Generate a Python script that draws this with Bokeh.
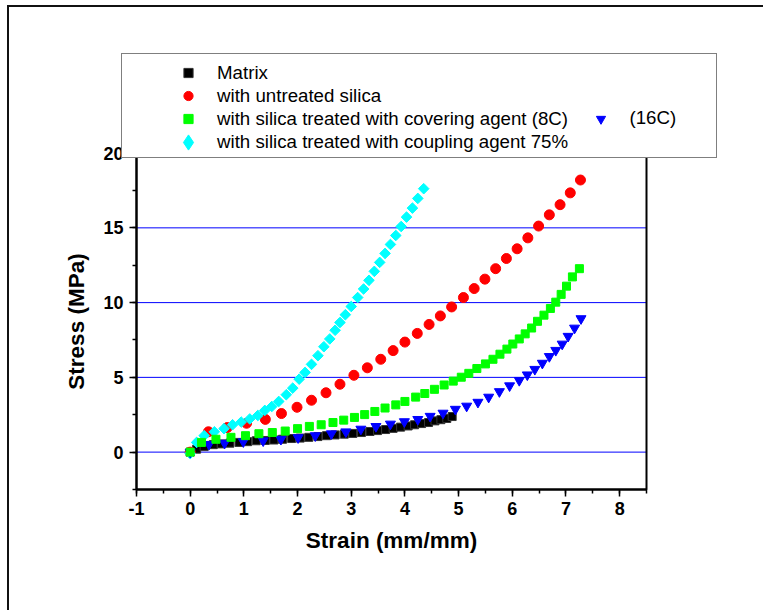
from bokeh.plotting import figure
from bokeh.models import Legend, LegendItem, SingleIntervalTicker
from bokeh.embed import file_html
from bokeh.resources import INLINE
import numpy as np

# ---------------- data ----------------
matrix_x = [0, 0.12, 0.26, 0.43, 0.58, 0.74, 0.91, 1.07, 1.23, 1.40, 1.56, 1.72, 1.89, 2.05, 2.21, 2.38, 2.54,
            2.70, 2.87, 3.03, 3.19, 3.35, 3.49, 3.64, 3.78, 3.92, 4.06, 4.18, 4.31, 4.44, 4.56, 4.67, 4.78, 4.88]
matrix_y = [0, 0.20, 0.37, 0.50, 0.55, 0.60, 0.65, 0.70, 0.76, 0.78, 0.81, 0.86, 0.91, 0.94, 0.99, 1.04, 1.10,
            1.15, 1.20, 1.25, 1.31, 1.38, 1.44, 1.51, 1.59, 1.67, 1.75, 1.83, 1.91, 1.98, 2.09, 2.17, 2.25, 2.38]

untreated_x = [0, 0.34, 0.69, 1.05, 1.40, 1.70, 1.99, 2.26, 2.53, 2.79, 3.05, 3.30, 3.55, 3.78, 4.00, 4.23,
               4.45, 4.66, 4.87, 5.09, 5.29, 5.49, 5.69, 5.89, 6.09, 6.29, 6.49, 6.69, 6.89, 7.08, 7.27]
untreated_y = [0, 1.36, 1.64, 1.93, 2.19, 2.58, 3.00, 3.47, 3.97, 4.54, 5.14, 5.64, 6.21, 6.79, 7.36, 7.94,
               8.54, 9.11, 9.71, 10.34, 10.94, 11.57, 12.27, 12.95, 13.60, 14.33, 15.12, 15.87, 16.55, 17.34, 18.20]

covering8_x = [0, 0.21, 0.48, 0.76, 1.03, 1.28, 1.53, 1.77, 2.00, 2.22, 2.44, 2.66, 2.86, 3.06, 3.25, 3.44,
               3.63, 3.83, 4.00, 4.20, 4.37, 4.55, 4.73, 4.90, 5.05, 5.19, 5.34, 5.50, 5.64, 5.77, 5.90, 6.01,
               6.13, 6.24, 6.36, 6.47, 6.59, 6.71, 6.81, 6.91, 7.01, 7.12, 7.25]
covering8_y = [0, 0.65, 0.86, 0.99, 1.10, 1.23, 1.31, 1.41, 1.57, 1.72, 1.83, 1.98, 2.14, 2.32, 2.51, 2.72,
               2.95, 3.16, 3.39, 3.68, 3.92, 4.20, 4.49, 4.75, 5.01, 5.27, 5.59, 5.90, 6.21, 6.55, 6.89, 7.23,
               7.57, 7.91, 8.30, 8.75, 9.16, 9.61, 10.03, 10.55, 11.10, 11.72, 12.27]

coupling_x = [0, 0.12, 0.26, 0.45, 0.63, 0.79, 0.95, 1.11, 1.26, 1.39, 1.52, 1.65, 1.79, 1.91, 2.03, 2.14,
              2.26, 2.38, 2.49, 2.60, 2.70, 2.79, 2.89, 3.00, 3.12, 3.23, 3.33, 3.43, 3.53, 3.63, 3.73, 3.83,
              3.93, 4.03, 4.14, 4.24, 4.35]
coupling_y = [-0.10, 0.65, 1.10, 1.36, 1.57, 1.83, 2.01, 2.22, 2.45, 2.79, 3.05, 3.39, 3.84, 4.28, 4.88, 5.33,
              5.87, 6.45, 7.05, 7.57, 8.15, 8.67, 9.19, 9.74, 10.34, 10.91, 11.49, 12.09, 12.69, 13.29, 13.89,
              14.49, 15.09, 15.72, 16.32, 16.97, 17.62]

covering16_x = [0, 0.35, 0.64, 0.99, 1.36, 1.69, 2.01, 2.33, 2.63, 2.90, 3.18, 3.46, 3.73, 3.99, 4.24, 4.47,
                4.71, 4.94, 5.15, 5.36, 5.56, 5.76, 5.95, 6.13, 6.28, 6.42, 6.56, 6.69, 6.81, 6.93, 7.04, 7.16, 7.28]
covering16_y = [0, 0.52, 0.60, 0.70, 0.76, 0.86, 0.97, 1.10, 1.23, 1.36, 1.54, 1.72, 1.88, 2.04, 2.19, 2.40,
                2.61, 2.87, 3.08, 3.34, 3.68, 4.05, 4.44, 4.80, 5.17, 5.54, 5.95, 6.40, 6.81, 7.23, 7.75, 8.30, 8.93]

labels = ["Matrix", "with untreated silica", "with silica treated with covering agent (8C)",
          "with silica treated with coupling agent 75%", "(16C)"]
x_title = "Strain (mm/mm)"
y_title = "Stress (MPa)"
x_lo, x_hi = -1, 8.5          # axis extents
y_lo, y_hi = -2.5, 20
grid_values = [0, 5, 10, 15, 20]

FONT = "Liberation Sans"
W, H = 763, 610
# plot box in pixels: left 136, right 646, top 152.6, bottom 489
PL, PR, PT, PB = 136, 646, 152.6, 489
kx = (PR - PL) / (x_hi - x_lo)
ky = (PB - PT) / (y_hi - y_lo)
xr = (x_lo - PL / kx, x_hi + (W - PR) / kx)
yr = (y_lo - (H - PB) / ky, y_hi + PT / ky)

# ---------------- figure (frame = whole canvas, axes pinned to the box) ----------------
p = figure(width=W, height=H, x_range=xr, y_range=yr,
           output_backend="svg", toolbar_location=None, title_location=None,
           min_border=0, min_border_left=0, min_border_right=0, min_border_top=0, min_border_bottom=0,
           background_fill_alpha=0, border_fill_alpha=0,
           styles={"background": "linear-gradient(#111,#111) 7px 5px / 100% 2px no-repeat, "
                                 "linear-gradient(#111,#111) 7px 5px / 2px 100% no-repeat, #ffffff"})
p.outline_line_color = None
p.xgrid.visible = False
p.ygrid.visible = False

p.xaxis.ticker = SingleIntervalTicker(interval=1, num_minor_ticks=2)
p.yaxis.ticker = SingleIntervalTicker(interval=5, num_minor_ticks=2)
p.xaxis.major_label_overrides = {-1: "-1"}
p.xaxis.fixed_location = y_lo
p.yaxis.fixed_location = x_lo
p.xaxis.bounds = (x_lo, x_hi)
p.yaxis.bounds = (y_lo, y_hi)

for ax in (p.xaxis[0], p.yaxis[0]):
    ax.axis_line_width = 2
    ax.axis_line_color = "black"
    ax.major_tick_out = 7
    ax.major_tick_in = 0
    ax.minor_tick_out = 4
    ax.minor_tick_in = 0
    ax.major_tick_line_width = 1.5
    ax.minor_tick_line_width = 1.5
    ax.major_label_text_font = FONT
    ax.major_label_text_font_style = "bold"
    ax.major_label_text_font_size = "18px"
    ax.major_label_text_color = "black"
    ax.axis_label_text_font = FONT
    ax.axis_label_text_font_style = "bold"
    ax.axis_label_text_font_size = "22.5px"
    ax.axis_label_text_color = "black"

p.xaxis.axis_label = x_title
p.yaxis.axis_label = y_title
p.xaxis.major_label_standoff = 5
p.yaxis.major_label_standoff = 6
p.xaxis.axis_label_standoff = 10
p.yaxis.axis_label_standoff = 11

# grid lines and plot box
p.segment(x0=x_lo, x1=x_hi, y0=grid_values, y1=grid_values, line_color="#0000ff", line_width=1)
p.quad(left=[x_lo], right=[x_hi], bottom=[y_lo], top=[y_hi], fill_color=None,
       line_color="black", line_width=2)

# ---------------- series ----------------
r_black = p.scatter(matrix_x, matrix_y, marker="square", size=8, fill_color="black", line_color="#333333")
r_red = p.scatter(untreated_x, untreated_y, marker="circle", size=10, fill_color="#ff0000", line_color="#ff0000")
r_cyan = p.scatter(coupling_x, coupling_y, marker="square", angle=np.pi / 4, size=7.5,
                   fill_color="#00ffff", line_color="#00ffff")
r_blue = p.scatter(covering16_x, covering16_y, marker="inverted_triangle", size=10,
                   fill_color="#0000ff", line_color="#0000ff")
r_green = p.scatter(covering8_x, covering8_y, marker="square", size=8, fill_color="#00ff00", line_color="#00ff00")

# legend-only glyphs (not drawn in the plot area)
r_dummy = p.scatter([np.nan], [np.nan], marker="square", size=1, fill_alpha=0, line_alpha=0)
r_cyan_leg = p.scatter([np.nan], [np.nan], marker="diamond", size=10, fill_color="#00ffff", line_color="#00ffff")

LEG_FS = "18.7px"
common = dict(orientation="vertical", margin=0, spacing=0,
              label_text_font=FONT, label_text_font_size=LEG_FS, label_text_color="black")

# legend frame: 121..715 x 55..158
legD = Legend(items=[LegendItem(label=" ", renderers=[r_dummy])],
              location=(121, H - 158),
              border_line_color="black", border_line_width=1.2,
              background_fill_color="white", background_fill_alpha=1,
              padding=0, glyph_width=1, glyph_height=103, label_standoff=0,
              label_width=593, label_height=103, **common)

# four entries: markers centred at x=188, text from x=217.5, rows at 72.5 + 23*i
legA = Legend(items=[LegendItem(label=labels[0], renderers=[r_black]),
                     LegendItem(label=labels[1], renderers=[r_red]),
                     LegendItem(label=labels[2], renderers=[r_green]),
                     LegendItem(label=labels[3], renderers=[r_dummy])],
              location=(165, H - 153),
              border_line_alpha=0, background_fill_alpha=0,
              padding=0, glyph_height=23, glyph_width=46, label_standoff=6, label_height=23,
              **common)

# large diamond symbol of row 4
legC = Legend(items=[LegendItem(label=" ", renderers=[r_cyan_leg])],
              location=(169, H - 160.5),
              border_line_alpha=0, background_fill_alpha=0,
              padding=0, glyph_height=38, glyph_width=38, label_standoff=0,
              label_width=1, label_height=20, **common)

# "(16C)" entry on row 3
legB = Legend(items=[LegendItem(label=labels[4], renderers=[r_blue])],
              location=(588.5, H - 129.5),
              border_line_alpha=0, background_fill_alpha=0,
              padding=0, glyph_height=23, glyph_width=23, label_standoff=18, label_height=23,
              **common)

p.add_layout(legD)
p.add_layout(legA)
p.add_layout(legC)
p.add_layout(legB)

open("out.html", "w").write(file_html(p, INLINE))
